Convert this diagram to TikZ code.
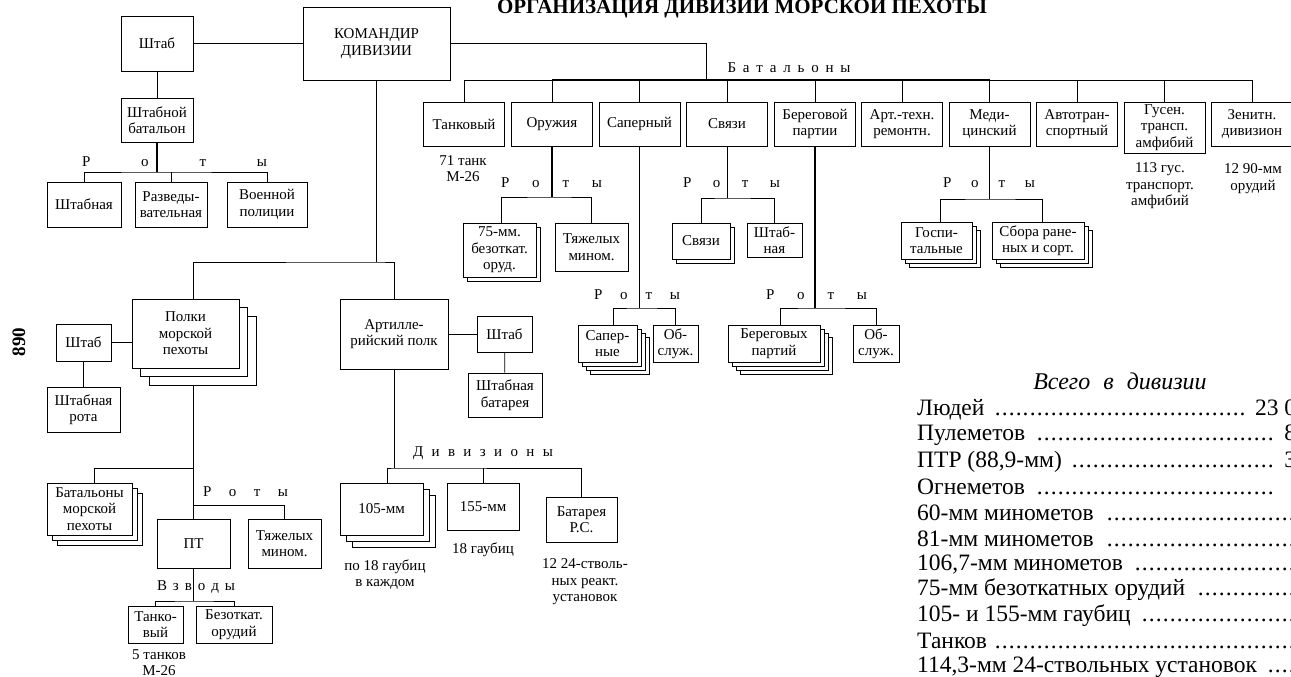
\documentclass[tikz,border=0pt]{standalone}
\usepackage{fontspec}
\setmainfont{Liberation Serif}
\usetikzlibrary{positioning,shadows}
\newcommand\fs{\fontsize{15}{16.5}\selectfont}
\newcommand\dotrule{\leaders\hbox to 7pt{\hss.\hss}\hfill}
\newcommand\spaced[2]{\makebox[#1][s]{#2}}
\begin{document}
\begin{tikzpicture}[
    x=1pt, y=-1pt,
%
    box/.style={
        draw,
        line width=0.9pt,
        fill=white,
        align=center,
        inner sep=1pt,
        font=\fs
    },
%
    bnbox/.style={
        box,
        minimum width=81pt,
        minimum height=44pt
    },
%
    stack/.style={
        general shadow={
            shadow xshift=#1,
            shadow yshift=-#1,
            fill=white,
            draw,
            line width=0.9pt
        }
    },
%
    note/.style={
        align=center,
        inner sep=0pt,
        font=\fs
    },
%
    spread/.style={
        inner sep=0pt,
        font=\fs
    },
%
    link/.style={line width=0.8pt},
    trunk/.style={line width=1.6pt},
%
    totline/.style={
        anchor=west,
        inner sep=0pt,
        font=\fontsize{23.5}{25}\selectfont
    }
]
\useasboundingbox (0,0) rectangle (1291,677);
%
% Title and page number
%
\node[
    anchor=base,
    font=\fontsize{21}{22}\selectfont\bfseries
] (title) at (742,13.5) {ОРГАНИЗАЦИЯ ДИВИЗИИ МОРСКОЙ ПЕХОТЫ};
\node[
    rotate=90,
    font=\fontsize{19}{20}\selectfont\bfseries
] (page) at (19,342) {890};
%
% Commander, staff and staff battalion
%
\node[box, minimum width=147pt, minimum height=73pt] (cmd) at (376.5,43.5) {КОМАНДИР\\ДИВИЗИИ};
\node[box, minimum width=72pt, minimum height=55pt] (hq) at (157,43.5) {Штаб};
\node[box, minimum width=72pt, minimum height=44pt] (hqbn) at (157,120) {Штабной\\батальон};
\node[box, minimum width=74pt, minimum height=45pt] (hqco) at (84,204.5) {Штабная};
\node[box, minimum width=72pt, minimum height=45pt] (recon) at (171,204.5) {Разведы-\\вательная};
\node[box, minimum width=80pt, minimum height=45pt] (mp) at (267,204.5) {Военной\\полиции};
\node[spread] (hqbnco) at (174.5,162) {\spaced{185pt}{Р о т ы}};
\coordinate (hqbnbus) at (157,172);
\draw[link] (hq) -- (cmd);
\draw[link] (hq) -- (hqbn);
\draw[trunk] (hqbn) -- (hqbnbus);
\draw[link] (hqco.north) |- (hqbnbus) -| (mp.north);
\draw[link] (recon.north) -- (recon.north |- hqbnbus);
%
% Battalions
%
\coordinate (bnbus) at (706,80);
\node[bnbox] (tank) at (464,124) {Танковый};
\node[bnbox] (arms) at (552,124) {Оружия};
\node[bnbox] (saper) at (639.5,124) {Саперный};
\node[bnbox] (sig) at (727,124) {Связи};
\node[bnbox] (shore) at (815,124) {Береговой\\партии};
\node[bnbox] (maint) at (902,124) {Арт.-техн.\\ремонтн.};
\node[bnbox] (med) at (989.5,124) {Меди-\\цинский};
\node[bnbox] (mt) at (1077,124) {Автотран-\\спортный};
\node[bnbox, minimum height=51pt] (amtrac) at (1164.5,127.5) {Гусен.\\трансп.\\амфибий};
\node[bnbox] (zen) at (1252,124) {Зенитн.\\дивизион};
\node[spread] (bnlbl) at (789,68) {\spaced{123pt}{Б а т а л ь о н ы}};
\draw[link] (cmd.east) -| (bnbus);
\draw[link] (tank.north |- bnbus) -- (zen.north |- bnbus);
\draw[trunk] (arms.north |- bnbus) -- (med.north |- bnbus);
\foreach \bn in {tank,arms,saper,sig,shore,maint,med,mt,amtrac,zen}
    \draw[link] (\bn.north |- bnbus) -- (\bn.north);
\node[note] (tanknote) at (463,168.5) {71 танк\\М-26};
\node[note] (amtracnote) at (1160,186) {113 гус.\\транспорт.\\амфибий};
\node[note] (zennote) at (1253,178.5) {12 90-мм\\орудий};
%
% Weapons battalion companies
%
\node[spread] (armsco) at (551.5,183) {\spaced{101pt}{Р о т ы}};
\coordinate (armsbus) at (552,197);
\node[box, stack=4pt, minimum width=73pt, minimum height=54pt] (rr) at (499.5,250) {75-мм.\\безоткат.\\оруд.};
\node[box, minimum width=73pt, minimum height=48pt] (hvmort) at (591.5,247) {Тяжелых\\мином.};
\draw[trunk] (arms) -- (armsbus);
\draw[link] ([xshift=2pt]rr.north) |- (armsbus) -| (hvmort.north);
%
% Signal battalion companies
%
\node[spread] (sigco) at (731.5,183) {\spaced{97pt}{Р о т ы}};
\coordinate (sigbus) at (727,198);
\node[box, stack=4pt, minimum width=58pt, minimum height=36pt] (sigcos) at (701,241) {Связи};
\node[box, minimum width=55pt, minimum height=34pt] (sighq) at (774.5,240) {Штаб-\\ная};
\draw[link] (sig) -- (sigbus);
\draw[link] (sigcos.north) |- (sigbus) -| (sighq.north);
%
% Medical battalion companies
%
\node[spread] (medco) at (989,183) {\spaced{92pt}{Р о т ы}};
\coordinate (medbus) at (989.5,199);
\node[box, stack=8pt, stack=4pt, minimum width=71pt, minimum height=37pt] (hosp) at (936.5,240.5) {Госпи-\\тальные};
\node[box, stack=8pt, stack=4pt, minimum width=92pt, minimum height=37pt] (clr) at (1038,240.5) {Сбора ране-\\ных и сорт.};
\draw[link] (med) -- (medbus);
\draw[link] ([xshift=4pt]hosp.north) |- (medbus) -| ([xshift=4pt]clr.north);
%
% Engineer and shore party companies
%
\node[spread] (engco) at (637,295) {\spaced{86pt}{Р о т ы}};
\coordinate (engbus) at (639.5,308);
\node[box, stack=12pt, stack=8pt, stack=4pt, minimum width=59pt, minimum height=37pt] (engcos) at (607.5,343.5) {Сапер-\\ные};
\node[box, minimum width=45pt, minimum height=37pt] (engsvc) at (675.5,343.5) {Об-\\служ.};
\draw[trunk] (saper) -- (engbus);
\draw[link] ([xshift=6pt]engcos.north) |- (engbus) -| (engsvc.north);
%
\node[spread] (shoreco) at (816.5,295) {\spaced{101pt}{Р о т ы}};
\coordinate (shorebus) at (815,308);
\node[box, stack=12pt, stack=8pt, stack=4pt, minimum width=92pt, minimum height=37pt] (shoreps) at (774,343.5) {Береговых\\партий};
\node[box, minimum width=46pt, minimum height=37pt] (shoresvc) at (876,343.5) {Об-\\служ.};
\draw[trunk] (shore) -- (shorebus);
\draw[link] ([xshift=6pt]shoreps.north) |- (shorebus) -| (shoresvc.north);
%
% Marine regiments
%
\coordinate (divjn) at (376.5,262);
\node[box, stack=17pt, stack=8.5pt, minimum width=107pt, minimum height=69pt] (regts) at (185.5,333.5) {Полки\\морской\\пехоты};
\node[box, minimum width=108pt, minimum height=70pt] (arty) at (394,334) {Артилле-\\рийский полк};
\draw[link] (cmd.south) -- (divjn);
\draw[link] ([xshift=8pt]regts.north) |- (divjn) -| (arty.north);
\node[box, minimum width=55pt, minimum height=37pt] (rhq) at (83.5,342.5) {Штаб};
\node[box, minimum width=73pt, minimum height=45pt] (rhqco) at (83.5,409.5) {Штабная\\рота};
\draw[link] (rhq.east) -- (rhq.east -| regts.west);
\draw[link] (rhq) -- (rhqco);
%
\coordinate (regjn) at (193.5,468);
\coordinate (cojn) at (193.5,505);
\draw[link] ([xshift=8pt,yshift=-17pt]regts.south) -- (cojn);
\node[box, stack=10pt, stack=5pt, minimum width=85pt, minimum height=52pt] (bns) at (89.5,509) {Батальоны\\морской\\пехоты};
\draw[link] (regjn) -| ([xshift=5pt]bns.north);
\node[spread] (regco) at (245.5,492) {\spaced{85pt}{Р о т ы}};
\node[box, minimum width=73pt, minimum height=49pt] (at) at (193.5,543.5) {ПТ};
\node[box, minimum width=73pt, minimum height=49pt] (hvmort2) at (284.5,543.5) {Тяжелых\\мином.};
\draw[link] (at.north) -- (cojn) -| (hvmort2.north);
%
\node[spread] (plt) at (196,587) {\spaced{78pt}{В з в о д ы}};
\coordinate (pltbus) at (193.5,601);
\node[box, minimum width=55pt, minimum height=37pt] (tkplt) at (155.5,624.5) {Танко-\\вый};
\node[box, minimum width=76pt, minimum height=37pt] (rrplt) at (234,624.5) {Безоткат.\\орудий};
\draw[link] (at) -- (pltbus);
\draw[link] (tkplt.north) |- (pltbus) -| (rrplt.north);
\node[note] (tkpltnote) at (159,662.5) {5 танков\\М-26};
%
% Artillery regiment
%
\node[box, minimum width=55pt, minimum height=36pt] (ahq) at (504.5,334) {Штаб};
\node[box, minimum width=74pt, minimum height=44pt] (ahqbty) at (505,395) {Штабная\\батарея};
\draw[link] (arty) -- (ahq);
\draw[link] (ahq) -- (ahqbty);
%
\node[spread] (divlbl) at (483,453) {\spaced{140pt}{Д и в и з и о н ы}};
\coordinate (divbus) at (394,468);
\node[box, stack=12pt, stack=6pt, minimum width=83pt, minimum height=52pt] (how105) at (381.5,509) {105-мм};
\node[box, minimum width=72pt, minimum height=47pt] (how155) at (483,506.5) {155-мм};
\node[box, minimum width=71pt, minimum height=45pt] (rkt) at (581.5,519.5) {Батарея\\Р.С.};
\draw[link] (arty) -- (divbus);
\draw[link] ([xshift=6pt]how105.north) |- (divbus) -| (rkt.north);
\draw[link] (how155.north) -- (how155.north |- divbus);
\node[note] (how105note) at (385,574.5) {по 18 гаубиц\\в каждом};
\node[note] (how155note) at (483,550) {18 гаубиц};
\node[note] (rktnote) at (585,582) {12 24-стволь-\\ных реакт.\\установок};
%
% Division totals
%
\node[
    font={\fontsize{24}{25}\selectfont\itshape\spaceskip=13pt}
] (totalhd) at (1120,381) {Всего в дивизии};
\node[totline] (tot1) at (917,410) {\makebox[379pt][l]{Людей \dotrule\ 23 0}};
\node[totline] (tot2) at (917,435.7) {\makebox[379pt][l]{Пулеметов \dotrule\ 8}};
\node[totline] (tot3) at (917,461.4) {\makebox[379pt][l]{ПТР (88,9-мм) \dotrule\ 3}};
\node[totline] (tot4) at (917,487.1) {\makebox[379pt][l]{Огнеметов \dotrule\hspace*{18pt}}};
\node[totline] (tot5) at (917,512.8) {\makebox[379pt][l]{60-мм минометов \dotrule}};
\node[totline] (tot6) at (917,538.5) {\makebox[379pt][l]{81-мм минометов \dotrule}};
\node[totline] (tot7) at (917,564.2) {\makebox[379pt][l]{106,7-мм минометов \dotrule}};
\node[totline] (tot8) at (917,589.9) {\makebox[379pt][l]{75-мм безоткатных орудий \dotrule}};
\node[totline] (tot9) at (917,615.6) {\makebox[379pt][l]{105- и 155-мм гаубиц \dotrule}};
\node[totline] (tot10) at (917,641.3) {\makebox[379pt][l]{Танков \dotrule}};
\node[totline] (tot11) at (917,667) {\makebox[379pt][l]{114,3-мм 24-ствольных установок \dotrule}};
%
\end{tikzpicture}
\end{document}
